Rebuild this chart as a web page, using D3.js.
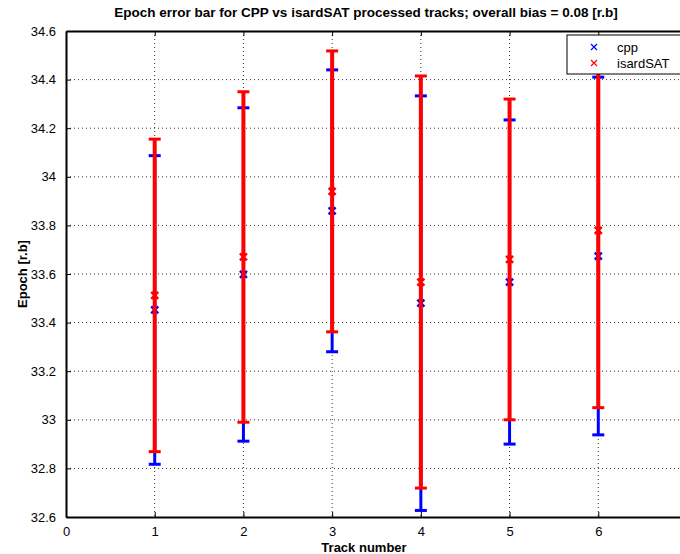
<!DOCTYPE html>
<html>
<head>
<meta charset="utf-8">
<script src="https://cdn.jsdelivr.net/npm/d3@7/dist/d3.min.js"></script>
<style>
  html, body { margin: 0; padding: 0; background: #fff; }
  svg { display: block; font-family: "Liberation Sans", Arial, Helvetica, sans-serif; }
</style>
</head>
<body>
<svg id="chart" width="680" height="554"></svg>
<script>
// Track numbers and per-track epoch statistics (mean ± error) for each processor
const tracks = [1, 2, 3, 4, 5, 6];
const cppMean = [33.452, 33.598, 33.860, 33.480, 33.567, 33.674];
const cppErr = [0.635, 0.686, 0.580, 0.853, 0.667, 0.736];
const isardMean = [33.512, 33.670, 33.940, 33.567, 33.660, 33.780];
const isardErr = [0.643, 0.680, 0.578, 0.848, 0.660, 0.730];

const xTicks = [0, 1, 2, 3, 4, 5, 6];
const yTicks = [32.6, 32.8, 33, 33.2, 33.4, 33.6, 33.8, 34, 34.2, 34.4, 34.6];
const yTickLabels = ["32.6", "32.8", "33", "33.2", "33.4", "33.6", "33.8", "34", "34.2", "34.4", "34.6"];

const seriesNames = ["cpp", "isardSAT"];
const seriesColors = ["#0000ff", "#ff0000"];
const titleText = "Epoch error bar for CPP vs isardSAT processed tracks; overall bias = 0.08 [r.b]";

const svg = d3.select("#chart");
const plot = { left: 66, top: 31, right: 687, bottom: 517 };

const x = d3.scaleLinear().domain([0, 7]).range([plot.left, plot.right]);
const y = d3.scaleLinear().domain([32.6, 34.6]).range([plot.bottom, plot.top]);

// dotted grid
const grid = svg.append("g");
grid.selectAll("line.gx").data(xTicks.slice(1)).join("line")
  .attr("x1", d => x(d)).attr("x2", d => x(d))
  .attr("y1", plot.top).attr("y2", plot.bottom)
  .attr("stroke", "#333").attr("stroke-width", 1).attr("stroke-dasharray", "1,3");
grid.selectAll("line.gy").data(yTicks.slice(1, -1)).join("line")
  .attr("x1", plot.left).attr("x2", plot.right)
  .attr("y1", d => y(d)).attr("y2", d => y(d))
  .attr("stroke", "#333").attr("stroke-width", 1).attr("stroke-dasharray", "1,3");

// axes (ticks point inward)
const xAxisB = d3.axisBottom(x).tickValues(xTicks).tickSizeInner(-5).tickSizeOuter(0).tickPadding(10).tickFormat(d3.format("d"));
const xAxisT = d3.axisTop(x).tickValues(xTicks).tickSizeInner(-5).tickSizeOuter(0).tickFormat("");
const yAxisL = d3.axisLeft(y).tickValues(yTicks).tickSizeInner(-5).tickSizeOuter(0).tickPadding(10)
  .tickFormat((d, i) => yTickLabels[i]);

function styleAxis(g) {
  g.select(".domain").attr("stroke", "#000").attr("stroke-width", 2);
  g.selectAll(".tick line").attr("stroke", "#000").attr("stroke-width", 1);
  g.selectAll(".tick text").attr("fill", "#000").attr("font-size", 13)
    .attr("font-family", "'Liberation Sans', Arial, sans-serif");
}
svg.append("g").attr("transform", `translate(0,${plot.bottom})`).call(xAxisB).call(styleAxis);
svg.append("g").attr("transform", `translate(0,${plot.top})`).call(xAxisT).call(styleAxis);
svg.append("g").attr("transform", `translate(${plot.left},0)`).call(yAxisL).call(styleAxis);

// error bars
const series = [
  { name: seriesNames[0], color: seriesColors[0], mean: cppMean, err: cppErr, width: 3 },
  { name: seriesNames[1], color: seriesColors[1], mean: isardMean, err: isardErr, width: 4 }
];
const capHalf = 6;
series.forEach(s => {
  const g = svg.append("g");
  const rows = tracks.map((t, i) => ({ t, m: s.mean[i], e: s.err[i] }));
  g.selectAll("line.stem").data(rows).join("line")
    .attr("x1", d => x(d.t)).attr("x2", d => x(d.t))
    .attr("y1", d => y(d.m - d.e)).attr("y2", d => y(d.m + d.e))
    .attr("stroke", s.color).attr("stroke-width", s.width);
  ["lo", "hi"].forEach(k => {
    g.selectAll("line.cap" + k).data(rows).join("line")
      .attr("x1", d => x(d.t) - capHalf).attr("x2", d => x(d.t) + capHalf)
      .attr("y1", d => y(k === "lo" ? d.m - d.e : d.m + d.e))
      .attr("y2", d => y(k === "lo" ? d.m - d.e : d.m + d.e))
      .attr("stroke", s.color).attr("stroke-width", 3);
  });
  const ms = 3.5;
  g.selectAll("path.mk").data(rows).join("path")
    .attr("d", d => {
      const cx = x(d.t), cy = y(d.m);
      return `M${cx - ms},${cy - ms}L${cx + ms},${cy + ms}M${cx - ms},${cy + ms}L${cx + ms},${cy - ms}`;
    })
    .attr("stroke", s.color).attr("stroke-width", 2.5).attr("fill", "none");
});

// legend
const lg = svg.append("g");
lg.append("rect").attr("x", 567).attr("y", 35).attr("width", 118).attr("height", 39)
  .attr("fill", "#fff").attr("stroke", "#000").attr("stroke-width", 1);
seriesNames.forEach((n, i) => {
  const cy = 47 + i * 16, cx = 594;
  lg.append("path")
    .attr("d", `M${cx - 3},${cy - 3}L${cx + 3},${cy + 3}M${cx - 3},${cy + 3}L${cx + 3},${cy - 3}`)
    .attr("stroke", seriesColors[i]).attr("stroke-width", 1.2);
  lg.append("text").attr("x", 617).attr("y", cy + 5).attr("font-size", 13).text(n);
});

// labels
svg.append("text").attr("x", 366).attr("y", 17).attr("text-anchor", "middle")
  .attr("font-size", 13.5).attr("font-weight", "bold").text(titleText);
svg.append("text").attr("x", 364).attr("y", 552).attr("text-anchor", "middle")
  .attr("font-size", 13).attr("font-weight", "bold").text("Track number");
svg.append("text").attr("transform", "translate(27,274) rotate(-90)").attr("text-anchor", "middle")
  .attr("font-size", 13).attr("font-weight", "bold").text("Epoch [r.b]");
</script>
</body>
</html>
